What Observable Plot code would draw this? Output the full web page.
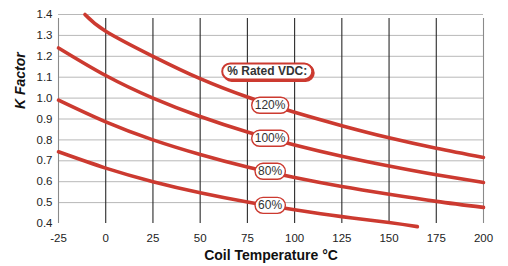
<!DOCTYPE html>
<html>
<head>
<meta charset="utf-8">
<script src="https://cdn.jsdelivr.net/npm/d3@7"></script>
<script src="https://cdn.jsdelivr.net/npm/@observablehq/plot@0.6"></script>
<style>
  html, body { margin: 0; padding: 0; background: #fff; }
  svg { font-family: "Liberation Sans", Arial, sans-serif; }
</style>
</head>
<body>
<script>
// Coil temperature (°C)
const temps = [-25, 0, 25, 50, 75, 100, 125, 150, 175, 200];
const temps120 = [-11, 0, 25, 50, 75, 100, 125, 150, 175, 200];
const temps60 = [-25, 0, 25, 50, 75, 100, 125, 150, 165];
// K factor per % rated VDC
const k120 = [1.40, 1.32, 1.20, 1.093, 1.005, 0.932, 0.868, 0.81, 0.76, 0.716];
const k100 = [1.24, 1.108, 1.00, 0.912, 0.838, 0.776, 0.722, 0.675, 0.633, 0.596];
const k80  = [0.99, 0.886, 0.80, 0.73, 0.67, 0.62, 0.577, 0.54, 0.506, 0.477];
const k60  = [0.743, 0.665, 0.60, 0.547, 0.503, 0.466, 0.433, 0.405, 0.385];

const seriesNames = ["120%", "100%", "80%", "60%"];
const labelX = [87, 87, 87, 87];
const labelY = [0.965, 0.807, 0.649, 0.486];
const titleLabel = "% Rated VDC:";
const titleX = 85.5;
const titleY = 1.127;

const xTicks = [-25, 0, 25, 50, 75, 100, 125, 150, 175, 200];
const yTicks = [0.4, 0.5, 0.6, 0.7, 0.8, 0.9, 1.0, 1.1, 1.2, 1.3, 1.4];
const yGrid = [0.5, 0.6, 0.7, 0.8, 0.9, 1.0, 1.1, 1.2, 1.3, 1.4];
const xGridDark = [0, 25, 50, 75, 100, 125, 150, 175];
const xGridEdge = [-25, 200];

const rows = [];
[[temps120, k120, "120%"], [temps, k100, "100%"], [temps, k80, "80%"], [temps60, k60, "60%"]]
  .forEach(([ts, ks, s]) => ts.forEach((t, i) => rows.push({t, k: ks[i], s})));

const labels = seriesNames.map((s, i) => ({x: labelX[i], y: labelY[i], text: s}));

const red = "#cc3a30";

const chart = Plot.plot({
  width: 508,
  height: 266,
  marginLeft: 58,
  marginRight: 25,
  marginTop: 14,
  marginBottom: 43,
  style: {fontFamily: "Liberation Sans, Arial, sans-serif", fontSize: "11.5px", color: "#222", background: "#fff"},
  x: {domain: [-25, 200], ticks: xTicks, tickSize: 0, tickPadding: 10, tickFormat: d => String(d), label: null},
  y: {domain: [0.4, 1.4], ticks: yTicks, tickSize: 0, tickPadding: 6, tickFormat: d3.format(".1f"), label: null},
  marks: [
    Plot.ruleY(yGrid, {stroke: "#b8b8b8", strokeWidth: 1}),
    Plot.ruleX(xGridDark, {stroke: "#2a2a2a", strokeWidth: 1.1, y1: 0.4, y2: 1.4, insetBottom: -4}),
    Plot.ruleX(xGridEdge, {stroke: "#8a8a8a", strokeWidth: 1.1, y1: 0.4, y2: 1.4, insetBottom: -4}),
    Plot.line(rows, {x: "t", y: "k", z: "s", stroke: red, strokeWidth: 3.6, curve: "natural"}),
    Plot.text(labels, {x: "x", y: "y", text: "text", fontSize: 12, fill: "#333"}),
    Plot.text([titleLabel], {x: () => titleX, y: () => titleY, text: d => d, fontSize: 12, fontWeight: "bold", fill: "#333"}),
    Plot.text(["Coil Temperature °C"], {frameAnchor: "bottom", dy: 36, fontSize: 14, fontWeight: "bold", fill: "#111"}),
    Plot.text(["K Factor"], {frameAnchor: "left", dx: -38, dy: -10, rotate: -90, fontSize: 14, fontWeight: "bold", fontStyle: "italic", fill: "#111"})
  ]
});

document.body.append(chart);

// Rounded label boxes behind the series labels
const svgNS = "http://www.w3.org/2000/svg";
chart.querySelectorAll("text").forEach(t => {
  const txt = t.textContent;
  const isSeries = seriesNames.includes(txt);
  const isTitle = txt === titleLabel;
  if (!isSeries && !isTitle) return;
  const b = t.getBBox();
  const padX = isTitle ? 5 : 3;
  const padY = 1;
  const mk = (dx, dy, fill, stroke, sw) => {
    const r = document.createElementNS(svgNS, "rect");
    r.setAttribute("x", b.x - padX + dx);
    r.setAttribute("y", b.y - padY + dy);
    r.setAttribute("width", b.width + 2 * padX);
    r.setAttribute("height", b.height + 2 * padY);
    r.setAttribute("rx", (b.height + 2 * padY) / 2);
    r.setAttribute("fill", fill);
    r.setAttribute("stroke", stroke);
    r.setAttribute("stroke-width", sw);
    const tr = t.getAttribute("transform");
    if (tr) r.setAttribute("transform", tr);
    t.parentNode.insertBefore(r, t);
  };
  if (isTitle) mk(1.5, 1.5, red, red, 2);
  mk(0, 0, "#fff", red, isTitle ? 2 : 1.4);
});
</script>
</body>
</html>
